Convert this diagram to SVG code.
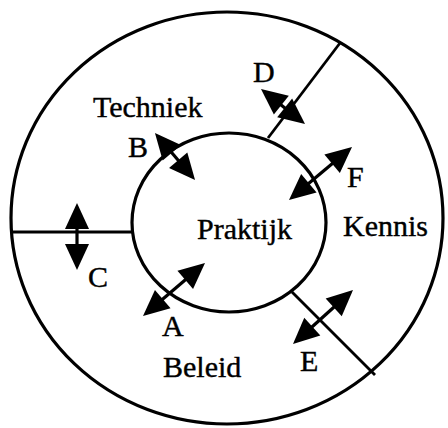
<svg xmlns="http://www.w3.org/2000/svg" width="448" height="428" viewBox="0 0 448 428">
<style>
.ring{fill:none;stroke:#000;stroke-width:3.2}
.div{stroke:#000;stroke-width:2.8;fill:none}
.arr{stroke:#000;stroke-width:3.2;fill:none;marker-start:url(#head);marker-end:url(#head)}
text{font-family:"Liberation Serif","Times New Roman",serif;font-size:30px;fill:#000;stroke:#000;stroke-width:0.4}
</style>
<defs>
<marker id="head" markerUnits="userSpaceOnUse" viewBox="0 0 26 24" markerWidth="26" markerHeight="24" refX="21" refY="12" orient="auto-start-reverse" overflow="visible">
<path d="M0,0 L26,12 L0,24 z" fill="#000"/>
</marker>
</defs>
<rect width="448" height="428" fill="#fff"/>
<g id="outer"><ellipse class="ring" cx="227" cy="218" rx="216" ry="206"/></g>
<g id="praktijk"><ellipse class="ring" cx="229" cy="222.5" rx="97" ry="89.5"/><text x="197" y="239">Praktijk</text></g>
<g id="techniek"><text x="93" y="117">Techniek</text></g>
<g id="kennis"><text x="343" y="236">Kennis</text></g>
<g id="beleid"><text x="163" y="377">Beleid</text></g>
<g id="dividers">
<line class="div" x1="11" y1="232" x2="132" y2="232"/>
<line class="div" x1="340" y1="43" x2="268" y2="138"/>
<line class="div" x1="292" y1="292" x2="375" y2="375"/>
</g>
<g id="connectors">
<line class="arr" x1="146.8" y1="312.8" x2="201.2" y2="266.2"/>
<line class="arr" x1="158.2" y1="136.8" x2="191.8" y2="176.2"/>
<line class="arr" x1="77" y1="208" x2="77" y2="265"/>
<line class="arr" x1="264.9" y1="92.1" x2="301.1" y2="120.9"/>
<line class="arr" x1="349.3" y1="293.3" x2="296.7" y2="340.7"/>
<line class="arr" x1="348.2" y1="150.2" x2="292.8" y2="196.8"/>
</g>
<g id="labels">
<text x="162" y="336">A</text>
<text x="128" y="157">B</text>
<text x="88" y="287">C</text>
<text x="253" y="82">D</text>
<text x="300" y="371">E</text>
<text x="347" y="187">F</text>
</g>
</svg>
